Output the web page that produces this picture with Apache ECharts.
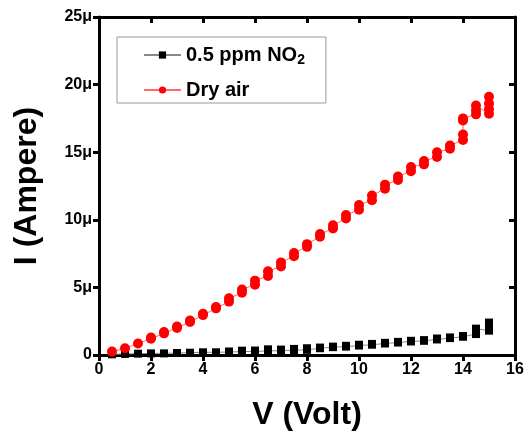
<!DOCTYPE html>
<html>
<head>
<meta charset="utf-8">
<script src="https://cdn.jsdelivr.net/npm/echarts@6/dist/echarts.min.js"></script>
<style>
html,body{margin:0;padding:0;background:#fff;}
#chart{width:528px;height:431px;}
</style>
</head>
<body>
<div id="chart"></div>
<script>
// voltages (V) and repeated current readings (μA) at each voltage
const voltages = [0.5,1,1.5,2,2.5,3,3.5,4,4.5,5,5.5,6,6.5,7,7.5,8,8.5,9,9.5,10,10.5,11,11.5,12,12.5,13,13.5,14,14.5,15];
const no2Current = [
  [0.05],[0.08],[0.1],[0.12],[0.12],[0.15],[0.17],[0.2],[0.2],[0.22,0.26],
  [0.25,0.32],[0.27,0.33],[0.3,0.42],[0.32,0.4],[0.36,0.45],[0.38,0.5],[0.5,0.55],[0.58,0.62],[0.62,0.68],[0.7,0.76],
  [0.76,0.82],[0.85,0.9],[0.92,0.97],[1.0,1.05],[1.05,1.1],[1.15,1.22],[1.25,1.3],[1.35,1.4],[1.55,1.75,1.95],[1.8,2.1,2.4]
];
const airCurrent = [
  [0.25],[0.5],[0.85],[1.2,1.3],[1.6,1.7],[2.0,2.1],[2.45,2.55],[2.95,3.05],[3.45,3.55],[3.95,4.2],
  [4.6,4.85],[5.2,5.5],[5.85,6.2],[6.55,6.85],[7.3,7.55],[8.0,8.2],[8.75,8.95],[9.35,9.6],[10.1,10.35],[10.75,11.1],
  [11.45,11.8],[12.3,12.6],[12.95,13.2],[13.6,13.9],[14.1,14.35],[14.65,15.0],[15.25,15.5],[15.9,16.3,17.35,17.5],[17.8,18.1,18.45],[17.85,18.2,18.6,19.1]
];
const yTickLabels = {0:'0',5:'5μ',10:'10μ',15:'15μ',20:'20μ',25:'25μ'};

const toPairs = (vals)=>{
  const out = [];
  voltages.forEach((v,i)=>{ vals[i].forEach(c=>out.push([v,c])); });
  return out;
};

const font = 'Liberation Sans, Arial, sans-serif';
const axisLine = {show:true, onZero:false, lineStyle:{color:'#000', width:3}};
const tick = (inside)=>({show:true, inside:inside, length:6, lineStyle:{color:'#000', width:3}});

const chart = echarts.init(document.getElementById('chart'));
chart.setOption({
  animation:false,
  grid:{left:99, right:13, top:17, bottom:76, outerBoundsMode:'none', containLabel:false},
  legend:{
    left:117, top:37,
    orient:'vertical', itemGap:13, itemWidth:37, itemHeight:9,
    padding:[8,21,3,26],
    borderColor:'#999', borderWidth:1,
    textStyle:{fontFamily:font, fontWeight:'bold', fontSize:20, color:'#000',
      rich:{sub:{fontFamily:font, fontWeight:'bold', fontSize:14, color:'#000', verticalAlign:'bottom', padding:[10,0,0,0]}}},
    formatter:(n)=> n==='0.5 ppm NO2' ? '0.5 ppm NO{sub|2}' : n,
    data:['0.5 ppm NO2','Dry air']
  },
  xAxis:[{
    type:'value', min:0, max:16, interval:2,
    name:'V (Volt)', nameLocation:'middle', nameGap:44,
    nameTextStyle:{fontFamily:font, fontWeight:'bold', fontSize:32, color:'#000'},
    axisLine:axisLine, axisTick:tick(false), splitLine:{show:false},
    axisLabel:{fontFamily:font, fontWeight:'bold', fontSize:16, color:'#000', margin:7}
  },{
    type:'value', position:'top', min:0, max:16, interval:2,
    axisLine:axisLine, axisTick:tick(true), axisLabel:{show:false}, splitLine:{show:false}
  }],
  yAxis:[{
    type:'value', min:0, max:25, interval:5,
    name:'I (Ampere)', nameLocation:'middle', nameGap:56,
    nameTextStyle:{fontFamily:font, fontWeight:'bold', fontSize:32, color:'#000'},
    axisLine:axisLine, axisTick:tick(false), splitLine:{show:false},
    axisLabel:{fontFamily:font, fontWeight:'bold', fontSize:16, color:'#000', margin:7,
      formatter:(v)=>yTickLabels[v]}
  },{
    type:'value', position:'right', min:0, max:25, interval:5,
    axisLine:axisLine, axisTick:tick(true), axisLabel:{show:false}, splitLine:{show:false}
  }],
  series:[{
    name:'0.5 ppm NO2', type:'line', data:toPairs(no2Current),
    symbol:'rect', symbolSize:8, showAllSymbol:true,
    itemStyle:{color:'#000'},
    lineStyle:{color:'#888', width:1}
  },{
    name:'Dry air', type:'line', data:toPairs(airCurrent),
    symbol:'circle', symbolSize:10, showAllSymbol:true,
    itemStyle:{color:'#ff0000'},
    lineStyle:{color:'#ff6a6a', width:1}
  }]
});
</script>
</body>
</html>
